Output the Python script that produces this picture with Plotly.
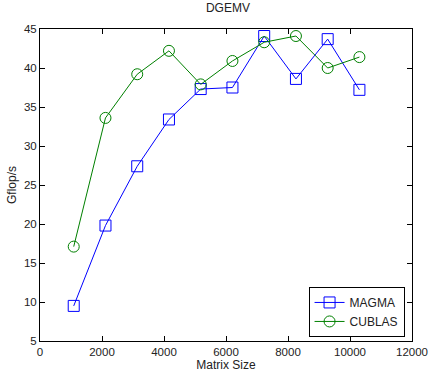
import plotly.graph_objects as go

matrix_size = [1088, 2112, 3136, 4160, 5184, 6208, 7232, 8256, 9280, 10304]
magma = [9.5, 19.8, 27.4, 33.4, 37.3, 37.5, 44.1, 38.6, 43.7, 37.2]
cublas = [17.1, 33.6, 39.2, 42.2, 37.9, 40.9, 43.3, 44.1, 40.0, 41.4]
x_ticks = [0, 2000, 4000, 6000, 8000, 10000, 12000]
x_labels = ["0", "2000", "4000", "6000", "8000", "10000", "12000"]
y_ticks = [5, 10, 15, 20, 25, 30, 35, 40, 45]

FONT = "Liberation Sans, Arial, Helvetica, sans-serif"
TXT = "#222"

fig = go.Figure()
fig.add_trace(go.Scatter(
    x=matrix_size, y=magma, name="MAGMA", mode="lines+markers",
    line=dict(color="#0000ff", width=1),
    marker=dict(symbol="square-open", size=11, color="#0000ff", line=dict(width=1)),
))
fig.add_trace(go.Scatter(
    x=matrix_size, y=cublas, name="CUBLAS", mode="lines+markers",
    line=dict(color="#008000", width=1),
    marker=dict(symbol="circle-open", size=11, color="#008000", line=dict(width=1)),
))

axis_common = dict(
    showgrid=False, zeroline=False, showline=True, linecolor="black", linewidth=1,
    mirror="ticks", ticks="inside", ticklen=5, tickcolor="black", automargin=False,
    tickfont=dict(family=FONT, size=11.5, color=TXT),
)
fig.update_layout(
    width=430, height=379,
    margin=dict(l=40, r=18, t=29, b=38),
    paper_bgcolor="white", plot_bgcolor="white",
    title=dict(text="DGEMV", x=0.53, xanchor="center", y=0.99, yanchor="top",
               font=dict(family=FONT, size=12, color=TXT)),
    xaxis=dict(range=[0, 12000], tickvals=x_ticks, ticktext=x_labels,
               title=dict(text="Matrix Size", font=dict(family=FONT, size=12, color=TXT), standoff=0),
               **axis_common),
    yaxis=dict(range=[5, 45], tickvals=y_ticks,
               title=dict(text="Gflop/s", font=dict(family=FONT, size=12, color=TXT), standoff=4),
               **axis_common),
    legend=dict(x=0.98, y=0.013, xanchor="right", yanchor="bottom",
                bordercolor="black", borderwidth=1, bgcolor="white",
                font=dict(family=FONT, size=12, color=TXT),
                tracegroupgap=0, itemwidth=30),
    showlegend=True,
)
fig.write_html(
    "out.html",
    config={"displayModeBar": False},
    post_script="document.body.style.margin='0';document.body.style.overflow='hidden';",
)
